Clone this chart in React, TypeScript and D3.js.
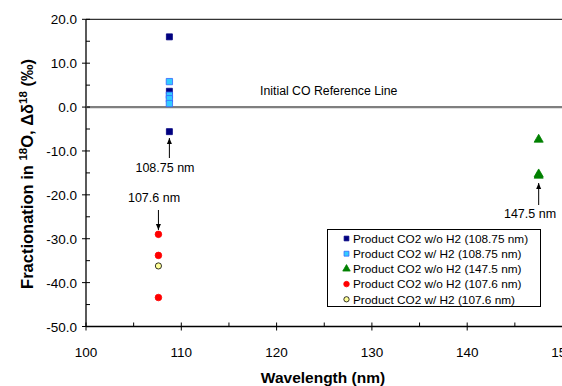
import React, { useEffect, useRef } from 'react'
import * as d3 from 'd3'

// values (per mil)
const darkBlue108 = [16.0, 3.6, -5.6]
const lightBlue108 = [5.8, 2.7, 1.9, 0.8]
const green147 = [-7.4, -15.3, -15.6]
const red107 = [-29.0, -33.8, -43.4]
const yellow107 = [-36.2]

const legendLabels = [
    'Product CO2 w/o H2 (108.75 nm)',
    'Product CO2 w/ H2 (108.75 nm)',
    'Product CO2 w/o H2 (147.5 nm)',
    'Product CO2 w/o H2 (107.6 nm)',
    'Product CO2 w/ H2 (107.6 nm)',
]
const yTicks = [20, 10, 0, -10, -20, -30, -40, -50]
const xTicks = [100, 110, 120, 130, 140, 150]

const W = 562, H = 386
const font = 'Arial, "Liberation Sans", sans-serif'

export default function App() {
    const ref = useRef<SVGSVGElement>(null)

    useEffect(() => {
        const svg = d3.select(ref.current)
        svg.selectAll('*').remove()

        const x = d3.scaleLinear().domain([100, 150]).range([86, 562.5])
        const y = d3.scaleLinear().domain([-50, 20]).range([326.5, 19.3])

        // frame: top border, left axis
        svg.append('line').attr('x1', x(100)).attr('x2', W).attr('y1', y(20)).attr('y2', y(20))
            .attr('stroke', '#000').attr('stroke-width', 1)
        svg.append('line').attr('x1', x(100)).attr('x2', x(100)).attr('y1', y(20)).attr('y2', y(-50))
            .attr('stroke', '#000').attr('stroke-width', 1.3)

        // reference line
        svg.append('line').attr('x1', x(100)).attr('x2', x(150)).attr('y1', y(0)).attr('y2', y(0))
            .attr('stroke', '#7f7f7f').attr('stroke-width', 2.2)
        svg.append('text').attr('x', 260).attr('y', y(0) - 12)
            .attr('font-family', font).attr('font-size', 12.3).attr('fill', '#000')
            .text('Initial CO Reference Line')

        svg.append('line').attr('x1', x(100)).attr('x2', W).attr('y1', y(-50)).attr('y2', y(-50))
            .attr('stroke', '#000').attr('stroke-width', 1.3)

        // y ticks
        const yMinor = d3.range(-45, 20, 10)
        svg.append('g').selectAll('line').data(yTicks).join('line')
            .attr('x1', x(100) - 4).attr('x2', x(100) + 4)
            .attr('y1', d => y(d)).attr('y2', d => y(d)).attr('stroke', '#000')
        svg.append('g').selectAll('line').data(yMinor).join('line')
            .attr('x1', x(100)).attr('x2', x(100) + 4)
            .attr('y1', d => y(d)).attr('y2', d => y(d)).attr('stroke', '#000')
        svg.append('g').selectAll('text').data(yTicks).join('text')
            .attr('x', 77).attr('y', d => y(d) + 5).attr('text-anchor', 'end')
            .attr('font-family', font).attr('font-size', 13.5).attr('fill', '#000')
            .text(d => d.toFixed(1))

        // x ticks
        const xMinor = d3.range(105, 150, 10)
        svg.append('g').selectAll('line').data(xTicks).join('line')
            .attr('x1', d => x(d)).attr('x2', d => x(d))
            .attr('y1', y(-50) - 4).attr('y2', y(-50) + 4).attr('stroke', '#000')
        svg.append('g').selectAll('line').data(xMinor).join('line')
            .attr('x1', d => x(d)).attr('x2', d => x(d))
            .attr('y1', y(-50) - 4).attr('y2', y(-50)).attr('stroke', '#000')
        svg.append('g').selectAll('text').data(xTicks).join('text')
            .attr('x', d => x(d)).attr('y', 357).attr('text-anchor', 'middle')
            .attr('font-family', font).attr('font-size', 13.5).attr('fill', '#000')
            .text(d => d)

        // axis titles
        svg.append('text').attr('x', 323).attr('y', 383).attr('text-anchor', 'middle')
            .attr('font-family', font).attr('font-size', 15.5).attr('font-weight', 'bold')
            .text('Wavelength (nm)')
        const yt = svg.append('text').attr('transform', 'translate(33,174) rotate(-90)')
            .attr('text-anchor', 'middle').attr('font-family', font)
            .attr('font-size', 16.5).attr('font-weight', 'bold')
        yt.append('tspan').text('Fractionation in ')
        yt.append('tspan').attr('dy', -6.5).attr('font-size', 11.5).text('18')
        yt.append('tspan').attr('dy', 6.5).text('O, Δδ')
        yt.append('tspan').attr('dy', -6.5).attr('font-size', 11.5).text('18')
        yt.append('tspan').attr('dy', 6.5).text(' (‰)')

        // annotations
        const annot = (wl: number, label: string, tx: number, ty: number, a1: number, a2: number) => {
            svg.append('text').attr('x', tx).attr('y', ty).attr('text-anchor', 'middle')
                .attr('font-family', font).attr('font-size', 12.5).text(label)
            svg.append('line').attr('x1', x(wl)).attr('x2', x(wl)).attr('y1', a1).attr('y2', a2)
                .attr('stroke', '#000').attr('stroke-width', 1)
            const dir = a2 > a1 ? 1 : -1
            svg.append('path')
                .attr('d', `M${x(wl)},${a2} L${x(wl) - 2.5},${a2 - dir * 6} L${x(wl) + 2.5},${a2 - dir * 6} Z`)
                .attr('fill', '#000')
        }
        annot(108.75, '108.75 nm', 165, 172, 158, 138)
        annot(107.6, '107.6 nm', 154, 202, 210, 230)
        annot(147.5, '147.5 nm', 530, 218, 205, 183)

        // markers
        const sym = (type: d3.SymbolType, size: number) => d3.symbol().type(type).size(size)()
        const drawSeries = (vals: number[], wl: number, type: d3.SymbolType, size: number, fill: string, stroke: string) => {
            svg.append('g').selectAll('path').data(vals).join('path')
                .attr('transform', d => `translate(${x(wl)},${y(d)})`)
                .attr('d', sym(type, size))
                .attr('fill', fill).attr('stroke', stroke).attr('stroke-width', 0.8)
        }
        drawSeries(darkBlue108, 108.75, d3.symbolSquare, 36, '#000080', '#000080')
        drawSeries(lightBlue108, 108.75, d3.symbolSquare, 40, '#33ccff', '#3366ff')
        drawSeries(green147, 147.5, d3.symbolTriangle, 36, '#008000', '#008000')
        drawSeries(red107, 107.6, d3.symbolCircle, 34, '#ff0000', '#ff0000')
        drawSeries(yellow107, 107.6, d3.symbolCircle, 30, '#ffff99', '#000')

        // legend
        const lg = svg.append('g')
        lg.append('rect').attr('x', 327.5).attr('y', 229.5).attr('width', 213).attr('height', 77)
            .attr('fill', '#fff').attr('stroke', '#000')
        const legendStyles: [d3.SymbolType, number, string, string][] = [
            [d3.symbolSquare, 22, '#000080', '#000080'],
            [d3.symbolSquare, 24, '#33ccff', '#3366ff'],
            [d3.symbolTriangle, 24, '#008000', '#008000'],
            [d3.symbolCircle, 24, '#ff0000', '#ff0000'],
            [d3.symbolCircle, 22, '#ffff99', '#000'],
        ]
        legendLabels.forEach((l, i) => {
            const cy = 238.5 + i * 15.2
            const [t, s, f, st] = legendStyles[i]
            lg.append('path').attr('transform', `translate(346.5,${cy})`).attr('d', sym(t, s))
                .attr('fill', f).attr('stroke', st).attr('stroke-width', 0.8)
            lg.append('text').attr('x', 353).attr('y', cy + 4.2).attr('font-family', font)
                .attr('font-size', 11.8).attr('fill', '#000').text(l)
        })
    }, [])

    return (
        <svg ref={ref} width={W} height={H}
            style={{ position: 'absolute', left: 0, top: 0, background: '#fff' }} />
    )
}
